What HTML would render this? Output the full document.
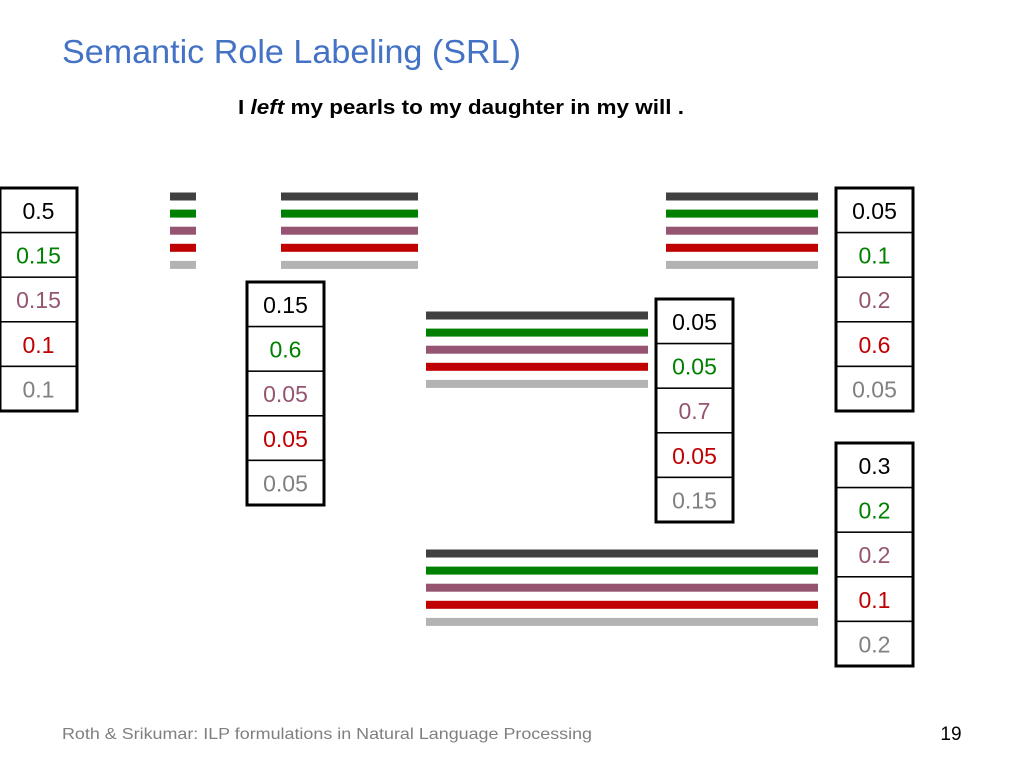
<!DOCTYPE html>
<html><head><meta charset="utf-8"><style>
html,body{margin:0;padding:0;background:#fff;}
svg{display:block;font-family:"Liberation Sans",sans-serif;}
</style></head><body>
<svg id="c" width="1024" height="768" viewBox="0 0 1024 768">
<text x="62" y="63" font-size="33" fill="#4472c4" textLength="459" lengthAdjust="spacingAndGlyphs">Semantic Role Labeling (SRL)</text>
<text x="238" y="114" font-size="20" font-weight="bold" fill="#000" textLength="446" lengthAdjust="spacingAndGlyphs">I <tspan font-style="italic">left</tspan> my pearls to my daughter in my will .</text>
<text x="62" y="739" font-size="16" fill="#7f7f7f" textLength="530" lengthAdjust="spacingAndGlyphs">Roth &amp; Srikumar: ILP formulations in Natural Language Processing</text>
<text x="951" y="740" font-size="19" fill="#000" text-anchor="middle">19</text>
<g id="bars"></g>
<g id="boxes"></g>
</svg>
<script>
// Series colors per role (row order)
const roleColors = ["#000000", "#008000", "#955572", "#c00000", "#808080"];
const barColors = ["#404040", "#008000", "#955572", "#c00000", "#b3b3b3"];
// Score tables (value per role)
const box1Values = ["0.5", "0.15", "0.15", "0.1", "0.1"];
const box2Values = ["0.15", "0.6", "0.05", "0.05", "0.05"];
const box3Values = ["0.05", "0.05", "0.7", "0.05", "0.15"];
const box4Values = ["0.05", "0.1", "0.2", "0.6", "0.05"];
const box5Values = ["0.3", "0.2", "0.2", "0.1", "0.2"];

const NS = "http://www.w3.org/2000/svg";
const boxLayer = document.getElementById("boxes");
const barLayer = document.getElementById("bars");
const CELL_H = 44.6, BOX_W = 77;

function drawBox(values, x, y, name) {
  const g = document.createElementNS(NS, "g");
  
  
  values.forEach((v, i) => {
    const r = document.createElementNS(NS, "rect");
    r.setAttribute("x", x); r.setAttribute("y", y + i * CELL_H);
    r.setAttribute("width", BOX_W); r.setAttribute("height", CELL_H);
    r.setAttribute("fill", "#fff"); r.setAttribute("stroke", "#000"); r.setAttribute("stroke-width", "1.5");
    
    
    g.appendChild(r);
    const t = document.createElementNS(NS, "text");
    t.setAttribute("x", x + BOX_W / 2); t.setAttribute("y", y + i * CELL_H + 31);
    t.setAttribute("text-anchor", "middle"); t.setAttribute("font-size", "23");
    t.setAttribute("fill", roleColors[i]);
    t.textContent = v;
    
    
    g.appendChild(t);
  });
  const o = document.createElementNS(NS, "rect");
  o.setAttribute("x", x); o.setAttribute("y", y);
  o.setAttribute("width", BOX_W); o.setAttribute("height", CELL_H * values.length);
  o.setAttribute("fill", "none"); o.setAttribute("stroke", "#000"); o.setAttribute("stroke-width", "3");
  
  
  g.appendChild(o);
  boxLayer.appendChild(g);
}

function drawBars(x1, x2, yTop, name) {
  const g = document.createElementNS(NS, "g");
  
  
  barColors.forEach((c, i) => {
    const r = document.createElementNS(NS, "rect");
    r.setAttribute("x", x1); r.setAttribute("y", yTop + i * 17.1 - 3.5);
    r.setAttribute("width", x2 - x1); r.setAttribute("height", 8);
    r.setAttribute("fill", c);
    
    
    g.appendChild(r);
  });
  barLayer.appendChild(g);
}

drawBars(170, 196, 196, "bars-I");
drawBars(281, 418, 196, "bars-left");
drawBars(666, 818, 196, "bars-to");
drawBars(426, 648, 315, "bars-pearls");
drawBars(426, 818, 553, "bars-daughter");

drawBox(box1Values, 0, 188, "scores-box-1");
drawBox(box2Values, 247, 282, "scores-box-2");
drawBox(box3Values, 656, 299, "scores-box-3");
drawBox(box4Values, 836, 188, "scores-box-4");
drawBox(box5Values, 836, 443, "scores-box-5");
</script>
</body></html>
